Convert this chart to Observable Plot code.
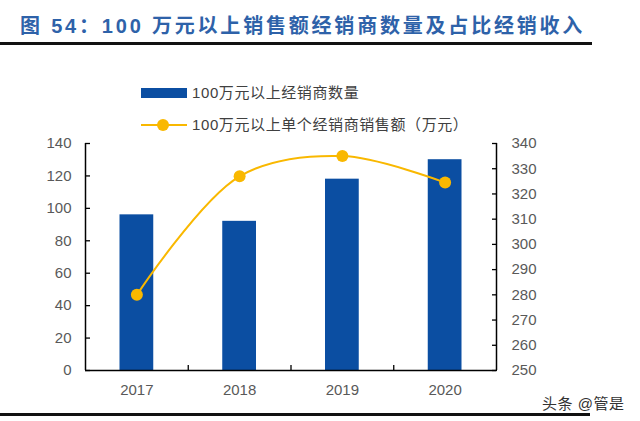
<!DOCTYPE html>
<html>
<head>
<meta charset="utf-8">
<script src="https://cdn.jsdelivr.net/npm/d3@7"></script>
<script src="https://cdn.jsdelivr.net/npm/@observablehq/plot@0.6"></script>
<style>
  html, body { margin: 0; padding: 0; background: #fff; }
  #wrap { position: relative; width: 640px; height: 421px; overflow: hidden;
    font-family: "Liberation Sans", Arial, "Noto Sans CJK SC", sans-serif; }
  #chart { position: absolute; left: 0; top: 0; }
  .title { position: absolute; left: 20px; top: 12px; font-size: 20px; font-weight: bold;
    color: #2e62a9; letter-spacing: 2.8px; white-space: nowrap; line-height: 28px; }
  .rule { position: absolute; left: 0; height: 3px; background: #111; }
  .leg { position: absolute; font-size: 15px; color: #404040; white-space: nowrap;
    letter-spacing: 0.6px; line-height: 20px; }
  .wm { position: absolute; left: 542px; top: 392px; font-size: 15px; color: #333; white-space: nowrap; letter-spacing: 0.5px; }
</style>
</head>
<body>
<div id="wrap">
  <div id="chart"></div>
  <div class="title">图 54：100 万元以上销售额经销商数量及占比经销收入</div>
  <div class="rule" style="top:42px;width:592px;"></div>
  <div style="position:absolute;left:141px;top:88px;width:46px;height:10px;background:#0b4ea2;"></div>
  <div class="leg" style="left:192px;top:83px;">100万元以上经销商数量</div>
  <div style="position:absolute;left:141px;top:124px;width:46px;height:2px;background:#f9b800;"></div>
  <div style="position:absolute;left:157px;top:119px;width:12px;height:12px;border-radius:50%;background:#f9b800;"></div>
  <div class="leg" style="left:192px;top:115px;">100万元以上单个经销商销售额（万元）</div>
  <div class="wm">头条 @管是</div>
  <div class="rule" style="top:413px;width:590px;"></div>
</div>
<script>
const years = ["2017", "2018", "2019", "2020"];
const dealers = [96, 92, 118, 130];
const avgSales = [280, 327, 335, 324.5];
const leftTicks = [0, 20, 40, 60, 80, 100, 120, 140];
const rightTicks = [250, 260, 270, 280, 290, 300, 310, 320, 330, 340];
const leftDomain = [0, 140];
const rightDomain = [250, 340];

const toLeft = v => leftDomain[0] + (v - rightDomain[0]) / (rightDomain[1] - rightDomain[0]) * (leftDomain[1] - leftDomain[0]);
const data = years.map((y, i) => ({i, year: y, dealers: dealers[i], avg: avgSales[i], avgL: toLeft(avgSales[i])}));

const barColor = "#0b4ea2";
const lineColor = "#f9b800";
const textColor = "#595959";

const chart = Plot.plot({
  width: 640,
  height: 421,
  marginLeft: 85,
  marginRight: 144,
  marginTop: 143,
  marginBottom: 51,
  style: {fontFamily: '"Liberation Sans", Arial, sans-serif', fontSize: "15px", background: "transparent"},
  x: {type: "linear", domain: [-0.5, years.length - 0.5], axis: null, label: null},
  y: {domain: leftDomain, axis: null, label: null},
  marks: [
    Plot.rectY(data, {x1: d => d.i - 0.5, x2: d => d.i + 0.5, y: "dealers", fill: barColor, insetLeft: 34.5, insetRight: 34.5}),
    Plot.line(data, {x: "i", y: "avgL", curve: "catmull-rom", stroke: lineColor, strokeWidth: 2}),
    Plot.dot(data, {x: "i", y: "avgL", r: 6, fill: lineColor}),
    // left axis
    Plot.axisY({anchor: "left", label: null, ticks: leftTicks, tickSize: 0, tickPadding: 14, fill: textColor, fontSize: 15}),
    Plot.axisY({anchor: "left", label: null, ticks: leftTicks, tickSize: -5, text: null, stroke: "#000", strokeWidth: 1.3}),
    // right axis
    Plot.axisY({anchor: "right", label: null, ticks: rightTicks.map(toLeft), tickFormat: (d, k) => String(rightTicks[k]), tickSize: 0, tickPadding: 15, fill: textColor, fontSize: 15}),
    Plot.axisY({anchor: "right", label: null, ticks: rightTicks.map(toLeft), tickSize: -5, text: null, stroke: "#000", strokeWidth: 1.3}),
    // x axis
    Plot.axisX({anchor: "bottom", label: null, ticks: data.map(d => d.i), tickFormat: (d, k) => years[k], tickSize: 0, tickPadding: 14, fill: textColor, fontSize: 15}),
    Plot.axisX({anchor: "bottom", label: null, ticks: data.slice(1).map(d => d.i - 0.5), tickSize: -5, text: null, stroke: "#000", strokeWidth: 1.3}),
    // axis lines
    Plot.ruleX([-0.5, years.length - 0.5], {stroke: "#000", strokeWidth: 1.5}),
    Plot.ruleY([leftDomain[0]], {stroke: "#000", strokeWidth: 1.5})
  ]
});
document.getElementById("chart").appendChild(chart);
</script>
</body>
</html>
